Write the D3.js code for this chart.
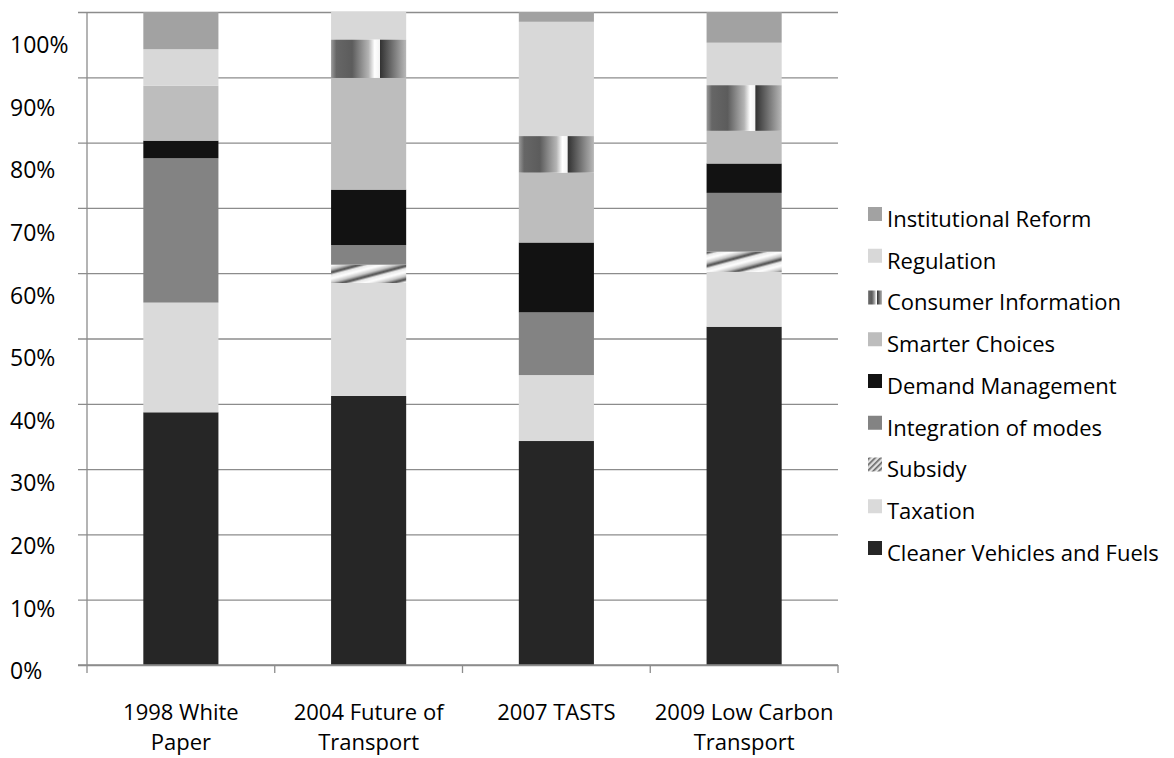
<!DOCTYPE html>
<html>
<head>
<meta charset="utf-8">
<script src="https://cdn.jsdelivr.net/npm/d3@7"></script>
<style>
  body { margin: 0; background: #fff; }
  text { font-family: "Open Sans", sans-serif; fill: #000; }
</style>
</head>
<body>
<svg class="policy-mix" width="1174" height="758"></svg>
<script>
// categories (line break marks where the label wraps)
const categories = ["1998 White\nPaper", "2004 Future of\nTransport", "2007 TASTS", "2009 Low Carbon\nTransport"];

// series, bottom of the stack first (share of each document)
const seriesNames = [
  "Cleaner Vehicles and Fuels",
  "Taxation",
  "Subsidy",
  "Integration of modes",
  "Demand Management",
  "Smarter Choices",
  "Consumer Information",
  "Regulation",
  "Institutional Reform",
];
const cleanerVehicles = [38.7, 41.2, 34.3, 51.8];
const taxation = [16.8, 17.3, 10.1, 8.4];
const subsidy = [0, 2.8, 0, 3.1];
const integration = [22.1, 3.0, 9.6, 9.0];
const demandManagement = [2.7, 8.5, 10.7, 4.5];
const smarterChoices = [8.4, 17.1, 10.7, 5.0];
const consumerInfo = [0, 5.9, 5.6, 7.0];
const regulation = [5.6, 4.2, 17.5, 6.5];
const institutionalReform = [5.7, 0, 1.5, 4.7];

const yTickValues = [0, 0.1, 0.2, 0.3, 0.4, 0.5, 0.6, 0.7, 0.8, 0.9, 1];

var svg = d3.select("svg.policy-mix"),
  plot = { left: 87, right: 838, top: 12, bottom: 665 },
  width = plot.right - plot.left;

const GRID_COLOR = "#8c8c8c";

const allSeries = [cleanerVehicles, taxation, subsidy, integration, demandManagement,
  smarterChoices, consumerInfo, regulation, institutionalReform];

const table = categories.map((c, i) => {
  const row = { category: c };
  seriesNames.forEach((s, j) => (row[s] = allSeries[j][i]));
  return row;
});

const stacked = d3.stack().keys(seriesNames).offset(d3.stackOffsetExpand)(table);

// PATTERNS / GRADIENTS
const defs = svg.append("defs");

const consumerGrad = defs.append("linearGradient").attr("id", "consumer-grad")
  .attr("x1", 0).attr("x2", 1).attr("y1", 0).attr("y2", 0);
[[0, "#9a9a9a"], [0.07, "#666"], [0.28, "#5c5c5c"], [0.5, "#b4b4b4"], [0.58, "#fff"],
 [0.645, "#f4f4f4"], [0.655, "#333"], [0.8, "#6a6a6a"], [1, "#b8b8b8"]]
  .forEach(([o, c]) => consumerGrad.append("stop").attr("offset", o).attr("stop-color", c));

const streakGrad = defs.append("linearGradient").attr("id", "streak-grad")
  .attr("x1", 0).attr("x2", 0).attr("y1", 0).attr("y2", 1);
[[0, "#e6e6e6"], [0.3, "#fff"], [0.6, "#c4c4c4"], [0.85, "#444"], [1, "#d6d6d6"]]
  .forEach(([o, c]) => streakGrad.append("stop").attr("offset", o).attr("stop-color", c));

defs.append("pattern").attr("id", "subsidy-bar")
  .attr("patternUnits", "userSpaceOnUse")
  .attr("width", 400).attr("height", 13)
  .attr("patternTransform", "rotate(-15)")
  .append("rect").attr("width", 400).attr("height", 13).attr("fill", "url(#streak-grad)");

const legendStripe = defs.append("pattern").attr("id", "subsidy-legend")
  .attr("patternUnits", "userSpaceOnUse")
  .attr("width", 4).attr("height", 4)
  .attr("patternTransform", "rotate(-45)");
legendStripe.append("rect").attr("width", 4).attr("height", 4).attr("fill", "#e0e0e0");
legendStripe.append("rect").attr("width", 4).attr("height", 1.6).attr("fill", "#666");

const fills = {
  "Cleaner Vehicles and Fuels": "#262626",
  Taxation: "#dadada",
  Subsidy: "url(#subsidy-bar)",
  "Integration of modes": "#838383",
  "Demand Management": "#121212",
  "Smarter Choices": "#bdbdbd",
  "Consumer Information": "url(#consumer-grad)",
  Regulation: "#d8d8d8",
  "Institutional Reform": "#a2a2a2",
};
const legendFills = Object.assign({}, fills, { Subsidy: "url(#subsidy-legend)" });

// SCALES
const xScale = d3.scaleBand().domain(categories).range([plot.left, plot.right])
  .paddingInner(0.6).paddingOuter(0.3);
const yScale = d3.scaleLinear().domain([0, 1]).range([plot.bottom, plot.top]);
// tick labels sit on their own slightly tighter spacing, as in the source picture
const labelScale = d3.scaleLinear().domain([0, 1]).range([plot.bottom + 6, plot.top + 33]);

// GRIDLINES
svg.append("g")
  .attr("class", "y grid")
  .attr("transform", `translate(${plot.left}, 0)`)
  .call(d3.axisLeft(yScale).tickValues(yTickValues).tickFormat("").tickSizeInner(-width).tickSizeOuter(0))
  .call((g) => g.select(".domain").remove())
  .call((g) => g.selectAll(".tick line").attr("x1", -9).attr("stroke", GRID_COLOR).attr("stroke-width", 1.3));

// BARS
svg.append("g")
  .selectAll("g")
  .data(stacked)
  .enter()
  .append("g")
  .attr("fill", (d) => fills[d.key])
  .selectAll("rect")
  .data((d) => d)
  .enter()
  .append("rect")
  .attr("x", (d) => xScale(d.data.category))
  .attr("width", xScale.bandwidth())
  .attr("y", (d) => yScale(d[1]))
  .attr("height", (d) => yScale(d[0]) - yScale(d[1]));

// AXIS LINES
const boundaries = d3.range(categories.length + 1).map((i) => plot.left + i * xScale.step());
svg.append("line")
  .attr("x1", plot.left).attr("x2", plot.left)
  .attr("y1", plot.top).attr("y2", plot.bottom)
  .attr("stroke", GRID_COLOR).attr("stroke-width", 1.3);
svg.append("line")
  .attr("x1", plot.left - 9).attr("x2", plot.right)
  .attr("y1", plot.bottom).attr("y2", plot.bottom)
  .attr("stroke", GRID_COLOR).attr("stroke-width", 1.3);
svg.append("g")
  .selectAll("line")
  .data(boundaries)
  .enter()
  .append("line")
  .attr("x1", (d) => d).attr("x2", (d) => d)
  .attr("y1", plot.bottom).attr("y2", plot.bottom + 8)
  .attr("stroke", GRID_COLOR).attr("stroke-width", 1.3);

// Y LABELS
svg.append("g")
  .selectAll("text")
  .data(yTickValues)
  .enter()
  .append("text")
  .attr("x", 10)
  .attr("y", (d) => labelScale(d))
  .attr("dy", "0.36em")
  .style("font-size", "23px")
  .text(d3.format(".0%"));

// X LABELS
const xLabels = svg.append("g")
  .selectAll("text")
  .data(categories)
  .enter()
  .append("text")
  .attr("text-anchor", "middle")
  .style("font-size", "22px")
  .attr("y", 720);
xLabels.selectAll("tspan")
  .data((d) => d.split("\n").map((t) => ({ t, cx: xScale(d) + xScale.bandwidth() / 2 })))
  .enter()
  .append("tspan")
  .attr("x", (d) => d.cx)
  .attr("dy", (d, i) => (i === 0 ? 0 : 30))
  .text((d) => d.t);

// LEGEND
const legendKeys = seriesNames.slice().reverse();
const legendRow = d3.scalePoint().domain(legendKeys).range([219, 553]);
const legend = svg.append("g").attr("class", "legend");
const legendItems = legend.selectAll("g").data(legendKeys).enter().append("g")
  .attr("transform", (d) => `translate(868, ${legendRow(d)})`);
legendItems.append("rect")
  .attr("x", 0).attr("y", -12)
  .attr("width", 14).attr("height", 14)
  .attr("fill", (d) => legendFills[d]);
legendItems.append("text")
  .attr("x", 19)
  .attr("dy", "0.36em")
  .style("font-size", "22px")
  .text((d) => d);
</script>
</body>
</html>
